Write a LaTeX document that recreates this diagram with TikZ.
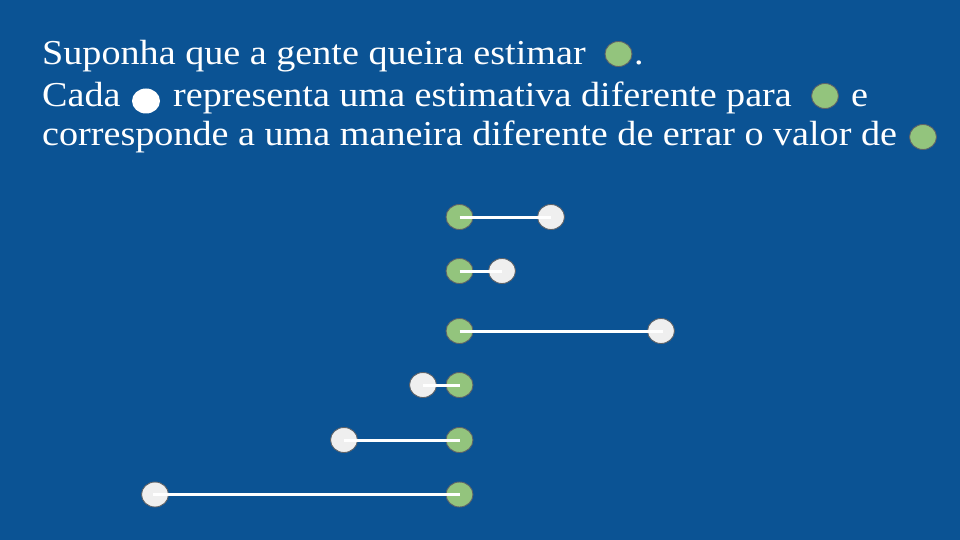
\documentclass[tikz,border=0pt]{standalone}
\usepackage{fontspec}
\setmainfont[FakeStretch=1.09]{Liberation Serif}
\usetikzlibrary{shapes.geometric}
\definecolor{bgblue}{HTML}{0B5394}
\definecolor{ptgreen}{HTML}{93C47D}
\definecolor{ptgrey}{HTML}{EFEFEF}
\definecolor{ptedge}{HTML}{5F6368}
\begin{document}
\begin{tikzpicture}[x=1pt,y=-1pt,
  truth/.style={ellipse, draw=ptedge, line width=0.9pt, fill=ptgreen, minimum width=27pt, minimum height=25pt, inner sep=0pt},
  guess/.style={ellipse, draw=ptedge, line width=0.9pt, fill=ptgrey, minimum width=27pt, minimum height=25pt, inner sep=0pt},
  plain/.style={ellipse, fill=white, minimum width=28pt, minimum height=25pt, inner sep=0pt},
  txt/.style={anchor=base west, inner sep=0pt, text=white, font=\fontsize{35}{40}\selectfont},
  err/.style={white, line width=3pt}]
\useasboundingbox (0,0) rectangle (960,540);
\fill[bgblue] (0,0) rectangle (960,540);
% text
\node[txt] (l1) at (42,65) {Suponha que a gente queira estimar};
\node[truth] (i1) at (618.5,54) {};
\node[txt] (l1b) at (634,65) {.};
\node[txt] (l2a) at (42,107) {Cada};
\node[plain] (i2) at (146,101) {};
\node[txt] (l2) at (173,107) {representa uma estimativa diferente para};
\node[truth] (i3) at (825,96) {};
\node[txt] (l2c) at (851,107) {e};
\node[txt] (l3) at (42,146) {corresponde a uma maneira diferente de errar o valor de};
\node[truth] (i4) at (923,137) {};
% rows
\node[truth] (t1) at (459.5,217) {};
\node[guess] (g1) at (551,217) {};
\node[truth] (t2) at (459.5,271) {};
\node[guess] (g2) at (502,271) {};
\node[truth] (t3) at (459.5,331) {};
\node[guess] (g3) at (661,331) {};
\node[guess] (g4) at (423,385) {};
\node[truth] (t4) at (459.5,385) {};
\node[guess] (g5) at (344,440) {};
\node[truth] (t5) at (459.5,440) {};
\node[guess] (g6) at (155,494.5) {};
\node[truth] (t6) at (459.5,494.5) {};
\draw[err] (t1.center) -- (g1.center);
\draw[err] (t2.center) -- (g2.center);
\draw[err] (t3.center) -- ([xshift=2pt]g3.center);
\draw[err] (g4.center) -- (t4.center);
\draw[err] (g5.center) -- (t5.center);
\draw[err] ([xshift=-2pt]g6.center) -- (t6.center);
\end{tikzpicture}
\end{document}
